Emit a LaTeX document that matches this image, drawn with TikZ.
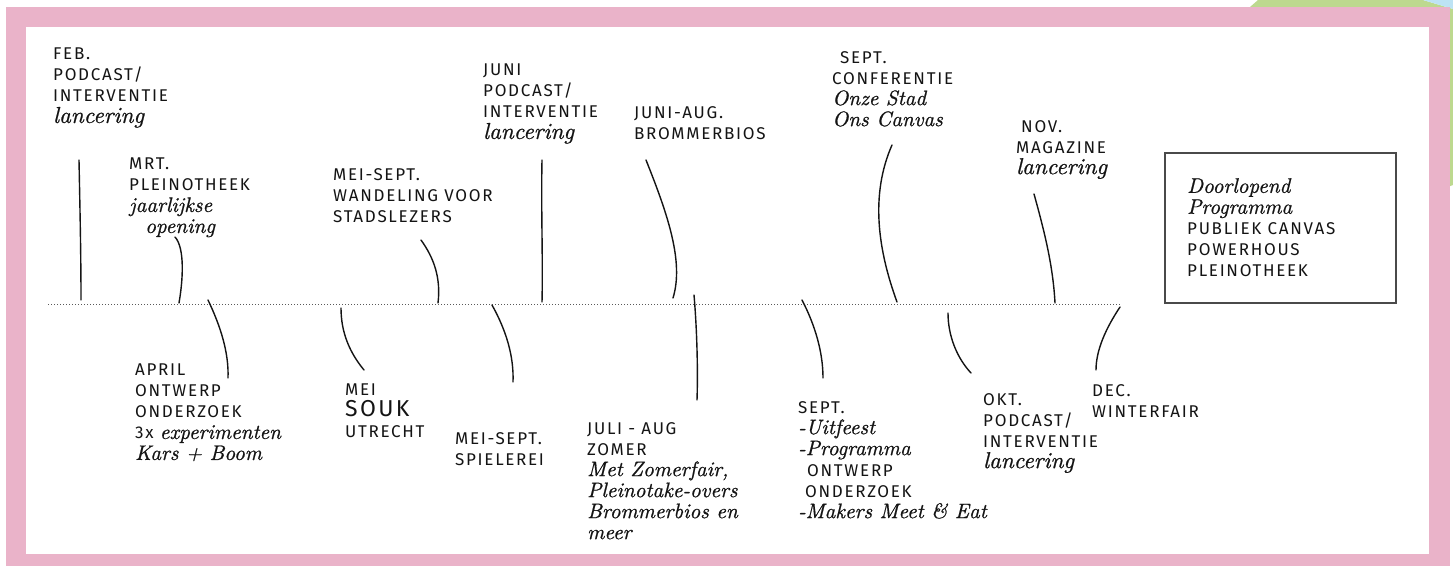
\documentclass[tikz,border=0pt]{standalone}
\usepackage{fontspec}
\setsansfont{Fira Sans}[LetterSpace=10]
\newfontfamily\handfont{lmroman10-italic}[Extension=.otf, FakeBold=0.8]

\definecolor{framepink}{HTML}{EAB3C9}
\definecolor{leafgreen}{HTML}{BDD98F}
\definecolor{skyblue}{HTML}{BDE3F4}
\definecolor{ink}{HTML}{141414}
\definecolor{boxgray}{HTML}{4A4A4A}

\newcommand{\hw}[1]{{\handfont\fontsize{21}{21}\selectfont #1}}
\newcommand{\hwbig}[1]{{\handfont\fontsize{23}{21}\selectfont #1}}

\tikzset{
  event/.style={anchor=north west, inner sep=0pt, align=left, text=ink,
    font=\sffamily\fontsize{17}{21}\selectfont},
  leader/.style={draw=ink, line width=1.4pt, line cap=round},
  timeline/.style={draw=ink!70, line width=1pt, dash pattern=on 1pt off 2pt},
}

\begin{document}
\begin{tikzpicture}[x=1pt, y=-1pt]
    \useasboundingbox (0,0) rectangle (1453,566);

    % frames behind and the pink frame
    \fill[leafgreen] (1250,7) -- (1258,0) -- (1423,0) -- (1453,9) -- (1453,185) -- (1440,190) -- (1250,190) -- cycle;
    \fill[skyblue] (1423,0) -- (1453,0) -- (1453,9) -- cycle;
    \fill[framepink] (6,7) rectangle (1450,566);
    \fill[white] (26,27) rectangle (1429,554);

    % above the line
    \node[event] at (53,48)    (feb)         {FEB.\\PODCAST/\\INTERVENTIE\\\hwbig{lancering}};
    \node[event] at (129,158)  (mrt)         {MRT.\\PLEINOTHEEK\\\hw{jaarlijkse}\\\hspace*{16pt}\hw{opening}};
    \node[event] at (333,168)  (wandeling)   {MEI-SEPT.\\WANDELING VOOR\\STADSLEZERS};
    \node[event] at (483,64)   (juni)        {JUNI\\PODCAST/\\INTERVENTIE\\\hwbig{lancering}};
    \node[event] at (634,106)  (brommerbios) {JUNI-AUG.\\BROMMERBIOS};
    \node[event] at (832,51)   (conferentie) {\hspace*{8pt}SEPT.\\CONFERENTIE\\\hw{Onze Stad}\\\hw{Ons Canvas}};
    \node[event] at (1016,120) (magazine)    {\hspace*{5pt}NOV.\\MAGAZINE\\\hwbig{lancering}};

    % below the line
    \node[event] at (135,364)  (april)       {APRIL\\ONTWERP\\ONDERZOEK\\3x \hw{experimenten}\\\hw{Kars + Boom}};
    \node[event] at (345,384)  (souk)        {MEI\\{\fontsize{23}{21}\selectfont SOUK}\\UTRECHT};
    \node[event] at (455,432)  (spielerei)   {MEI-SEPT.\\SPIELEREI};
    \node[event] at (587,422)  (zomer)       {JULI - AUG\\ZOMER\\\hw{Met Zomerfair,}\\\hw{Pleinotake-overs}\\\hw{Brommerbios en}\\\hw{meer}};
    \node[event] at (798,401)  (uitfeest)    {SEPT.\\\hw{-Uitfeest}\\\hw{-Programma}\\\hspace*{9pt}ONTWERP\\\hspace*{7pt}ONDERZOEK\\\hw{-Makers Meet \& Eat}};
    \node[event] at (983,393)  (okt)         {OKT.\\PODCAST/\\INTERVENTIE\\\hwbig{lancering}};
    \node[event] at (1092,384) (winterfair)  {DEC.\\WINTERFAIR};

    % ongoing programme
    \draw[draw=boxgray, line width=1.3pt] (1165,153) rectangle (1396,303);
    \node[event] at (1187,178) (doorlopend)  {\hw{Doorlopend}\\\hw{Programma}\\PUBLIEK CANVAS\\POWERHOUS\\PLEINOTHEEK};

    % the line
    \coordinate (tl-start) at (48,304);
    \coordinate (tl-end)   at (1120,304);
    \draw[timeline] (tl-start) -- (tl-end);

    \coordinate (feb-a) at (79,160);           \coordinate (feb-b) at (81,300);
    \coordinate (mrt-a) at (175,237);          \coordinate (mrt-b) at (179,303);
    \coordinate (wandeling-a) at (421,240);    \coordinate (wandeling-b) at (438,303);
    \coordinate (juni-a) at (542,160);         \coordinate (juni-b) at (542,302);
    \coordinate (brommerbios-a) at (646,160);  \coordinate (brommerbios-b) at (673,298);
    \coordinate (conferentie-a) at (892,145);  \coordinate (conferentie-b) at (897,302);
    \coordinate (magazine-a) at (1034,194);    \coordinate (magazine-b) at (1055,303);
    \coordinate (april-a) at (228,378);        \coordinate (april-b) at (208,300);
    \coordinate (souk-a) at (364,370);         \coordinate (souk-b) at (341,308);
    \coordinate (spielerei-a) at (513,382);    \coordinate (spielerei-b) at (492,305);
    \coordinate (zomer-a) at (697,400);        \coordinate (zomer-b) at (694,295);
    \coordinate (uitfeest-a) at (823,378);     \coordinate (uitfeest-b) at (802,300);
    \coordinate (okt-a) at (971,373);          \coordinate (okt-b) at (948,313);
    \coordinate (winterfair-a) at (1096,370);  \coordinate (winterfair-b) at (1120,307);

    \draw[leader] (feb-a) .. controls (80,210) and (81,255) .. (feb-b);
    \draw[leader] (mrt-a) .. controls (185,248) and (183,280) .. (mrt-b);
    \draw[leader] (wandeling-a) .. controls (434,258) and (441,278) .. (wandeling-b);
    \draw[leader] (juni-a) .. controls (541,210) and (543,260) .. (juni-b);
    \draw[leader] (brommerbios-a) .. controls (668,215) and (684,262) .. (brommerbios-b);
    \draw[leader] (conferentie-a) .. controls (870,195) and (878,250) .. (conferentie-b);
    \draw[leader] (magazine-a) .. controls (1044,230) and (1053,265) .. (magazine-b);
    \draw[leader] (april-a) .. controls (229,352) and (220,325) .. (april-b);
    \draw[leader] (souk-a) .. controls (350,353) and (341,333) .. (souk-b);
    \draw[leader] (spielerei-a) .. controls (514,356) and (506,330) .. (spielerei-b);
    \draw[leader] (zomer-a) .. controls (698,370) and (697,330) .. (zomer-b);
    \draw[leader] (uitfeest-a) .. controls (823,352) and (815,325) .. (uitfeest-b);
    \draw[leader] (okt-a) .. controls (957,358) and (948,336) .. (okt-b);
    \draw[leader] (winterfair-a) .. controls (1096,350) and (1106,328) .. (winterfair-b);
\end{tikzpicture}
\end{document}
